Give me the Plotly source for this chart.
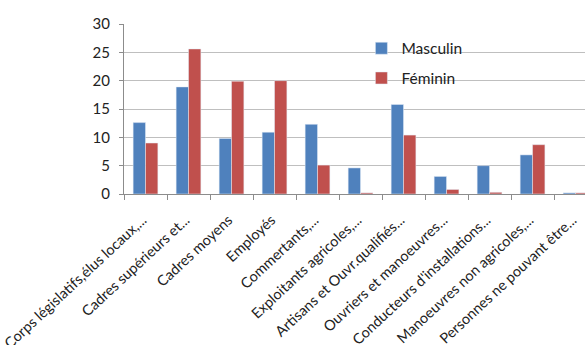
import plotly.graph_objects as go

categories = [
    "Corps législatifs,élus locaux,...",
    "Cadres supérieurs et...",
    "Cadres moyens",
    "Employés",
    "Commertants,...",
    "Exploitants agricoles,...",
    "Artisans et Ouvr.qualifiés...",
    "Ouvriers et manoeuvres...",
    "Conducteurs d'installations...",
    "Manoeuvres non agricoles,...",
    "Personnes ne pouvant être...",
]
masculin = [12.6, 18.9, 9.8, 10.9, 12.3, 4.6, 15.8, 3.1, 5.0, 6.9, 0.2]
feminin = [9.0, 25.6, 19.9, 20.0, 5.1, 0.2, 10.4, 0.8, 0.3, 8.7, 0.2]
y_ticks = [0, 5, 10, 15, 20, 25, 30]

FONT = "Lato, 'Open Sans', sans-serif"
GRID = "#bfbfbf"

fig = go.Figure()
fig.add_trace(go.Bar(x=categories, y=masculin, name="Masculin",
                     marker_color="#4F81BD", legend="legend"))
fig.add_trace(go.Bar(x=categories, y=feminin, name="Féminin",
                     marker_color="#C0504D", legend="legend2"))

legend_style = dict(
    xanchor="left", yanchor="middle", bgcolor="rgba(0,0,0,0)",
    font=dict(family=FONT, size=15.5, color="#222"),
    itemwidth=30, borderwidth=0,
)

fig.update_layout(
    width=585, height=345,
    margin=dict(l=124, r=0, t=24, b=151, autoexpand=False),
    paper_bgcolor="white", plot_bgcolor="white",
    barmode="group", bargap=0.425, bargroupgap=0,
    font=dict(family=FONT, size=14, color="#222"),
    showlegend=True,
    legend=dict(x=0.515, y=0.855, **legend_style),
    legend2=dict(x=0.515, y=0.68, **legend_style),
    xaxis=dict(
        type="category", range=[-0.5, 10.22],
        tickangle=-43, tickson="boundaries",
        ticks="outside", ticklen=5, tickcolor="#8c8c8c",
        showline=True, linecolor="#8c8c8c", linewidth=1,
        tickfont=dict(family=FONT, size=14.5, color="#222"),
        ticklabelshift=-3, ticklabelstandoff=11,
        automargin=False, showgrid=False,
    ),
    yaxis=dict(
        range=[0, 30], tickvals=y_ticks,
        ticks="outside", ticklen=4, tickcolor="#8c8c8c",
        showline=True, linecolor="#8c8c8c", linewidth=1,
        showgrid=True, gridcolor=GRID, gridwidth=1,
        zeroline=False, ticklabelstandoff=6,
        tickfont=dict(family=FONT, size=15, color="#222"),
        automargin=False,
    ),
)

fig.write_html("out.html")
